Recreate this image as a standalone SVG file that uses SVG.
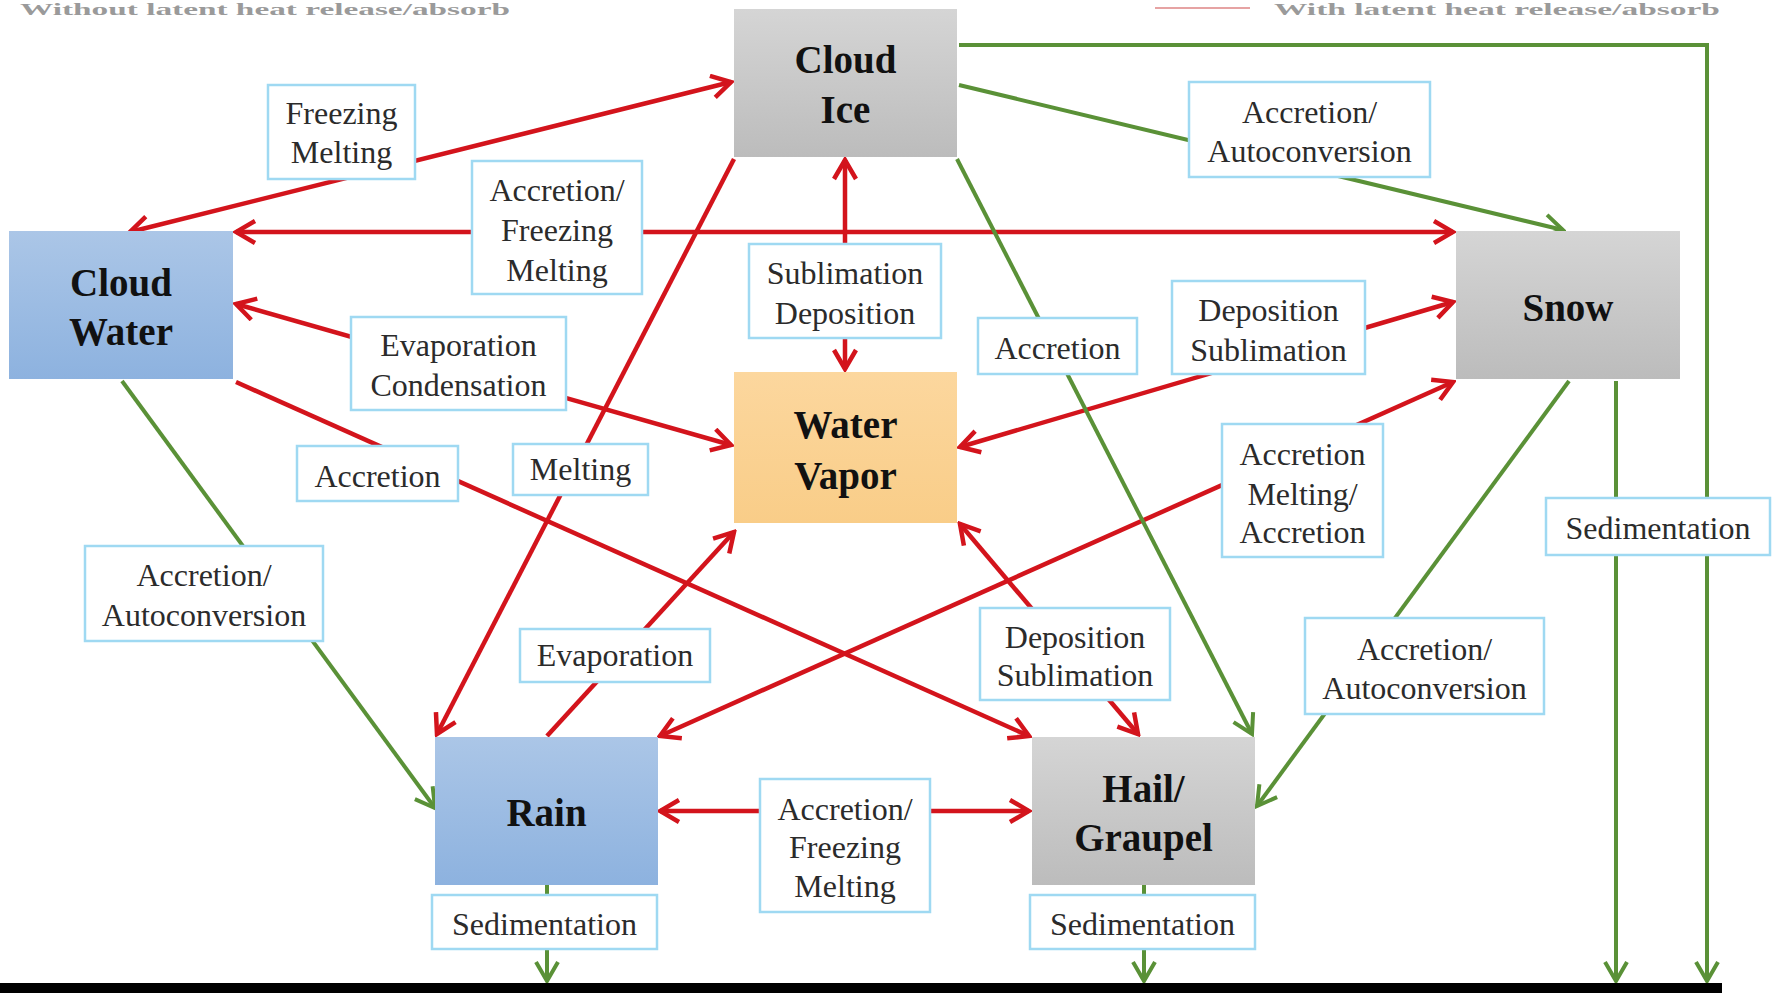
<svg xmlns="http://www.w3.org/2000/svg" width="1776" height="993" viewBox="0 0 1776 993">
<defs>
<linearGradient id="gGray" x1="0" y1="0" x2="0" y2="1"><stop offset="0" stop-color="#d5d5d5"/><stop offset="1" stop-color="#bcbcbc"/></linearGradient>
<linearGradient id="gBlue" x1="0" y1="0" x2="0" y2="1"><stop offset="0" stop-color="#abc6e7"/><stop offset="1" stop-color="#8db2df"/></linearGradient>
<linearGradient id="gOrange" x1="0" y1="0" x2="0" y2="1"><stop offset="0" stop-color="#fcd79e"/><stop offset="1" stop-color="#f9cd88"/></linearGradient>
<marker id="aR" viewBox="0 0 26 26" refX="23" refY="13" markerWidth="26" markerHeight="26" markerUnits="userSpaceOnUse" orient="auto-start-reverse"><path d="M4,2 L23,13 L4,24" fill="none" stroke="#d3141c" stroke-width="4.5"/></marker>
<marker id="aG" viewBox="0 0 26 26" refX="23" refY="13" markerWidth="26" markerHeight="26" markerUnits="userSpaceOnUse" orient="auto-start-reverse"><path d="M4,2 L23,13 L4,24" fill="none" stroke="#5a9137" stroke-width="4"/></marker>
<style>
.r{stroke:#d3141c;stroke-width:4.5;fill:none}
.g{stroke:#5a9137;stroke-width:4;fill:none}
.lb{fill:#ffffff;stroke:#9fd9f2;stroke-width:2.5}
.lt{font-family:'Liberation Serif','Times New Roman',serif;font-size:32px;fill:#2b2b2b;text-anchor:middle}
.nt{font-family:'Liberation Serif','Times New Roman',serif;font-size:39px;font-weight:bold;fill:#111111;text-anchor:middle}
.leg{font-family:'Liberation Serif','Times New Roman',serif;font-size:17px;font-weight:bold;fill:#9a9a9a}
</style>
</defs>
<rect width="1776" height="993" fill="#ffffff"/>
<g id="legend">
<text class="leg" x="20" y="15" textLength="490" lengthAdjust="spacingAndGlyphs">Without latent heat release/absorb</text>
<line x1="1155" y1="8" x2="1250" y2="8" stroke="#e6a3a3" stroke-width="2"/>
<text class="leg" x="1274" y="15" textLength="446" lengthAdjust="spacingAndGlyphs">With latent heat release/absorb</text>
</g>
<g id="connectors">
<line class="r" x1="130" y1="232" x2="731" y2="82" marker-start="url(#aR)" marker-end="url(#aR)"/>
<line class="r" x1="236" y1="232" x2="1453" y2="232" marker-start="url(#aR)" marker-end="url(#aR)"/>
<line class="r" x1="845" y1="160" x2="845" y2="369" marker-start="url(#aR)" marker-end="url(#aR)"/>
<line class="r" x1="236" y1="304" x2="731" y2="445" marker-start="url(#aR)" marker-end="url(#aR)"/>
<line class="r" x1="236" y1="382" x2="1029" y2="736" marker-end="url(#aR)"/>
<line class="r" x1="734" y1="159" x2="437" y2="734" marker-end="url(#aR)"/>
<line class="r" x1="547" y1="736" x2="734" y2="532" marker-end="url(#aR)"/>
<line class="r" x1="660" y1="736" x2="1453" y2="382" marker-start="url(#aR)" marker-end="url(#aR)"/>
<line class="r" x1="1453" y1="302" x2="960" y2="447" marker-start="url(#aR)" marker-end="url(#aR)"/>
<line class="r" x1="960" y1="524" x2="1138" y2="734" marker-start="url(#aR)" marker-end="url(#aR)"/>
<line class="r" x1="660" y1="811" x2="1029" y2="811" marker-start="url(#aR)" marker-end="url(#aR)"/>
<line class="g" x1="959" y1="85" x2="1563" y2="230" marker-end="url(#aG)"/>
<polyline class="g" points="959,45 1707,45 1707,981" marker-end="url(#aG)"/>
<line class="g" x1="1616" y1="381" x2="1616" y2="981" marker-end="url(#aG)"/>
<line class="g" x1="957" y1="159" x2="1252" y2="734" marker-end="url(#aG)"/>
<line class="g" x1="1569" y1="381" x2="1257" y2="806" marker-end="url(#aG)"/>
<line class="g" x1="122" y1="381" x2="435" y2="808" marker-end="url(#aG)"/>
<line class="g" x1="547" y1="885" x2="547" y2="981" marker-end="url(#aG)"/>
<line class="g" x1="1144" y1="885" x2="1144" y2="981" marker-end="url(#aG)"/>
</g>
<g id="labels">
<g id="lbl-freezing-melting"><rect class="lb" x="268" y="85" width="147" height="94"/><text class="lt" x="341.5" y="124">Freezing</text><text class="lt" x="341.5" y="163">Melting</text></g>
<g id="lbl-acc-freez-melt-top"><rect class="lb" x="472" y="161" width="170" height="133"/><text class="lt" x="557" y="201">Accretion/</text><text class="lt" x="557" y="241">Freezing</text><text class="lt" x="557" y="281">Melting</text></g>
<g id="lbl-subl-depo"><rect class="lb" x="749" y="244" width="192" height="94"/><text class="lt" x="845" y="284">Sublimation</text><text class="lt" x="845" y="324">Deposition</text></g>
<g id="lbl-evap-cond"><rect class="lb" x="351" y="317" width="215" height="93"/><text class="lt" x="458.5" y="356">Evaporation</text><text class="lt" x="458.5" y="396">Condensation</text></g>
<g id="lbl-accretion-left"><rect class="lb" x="297" y="446" width="161" height="55"/><text class="lt" x="377.5" y="487">Accretion</text></g>
<g id="lbl-melting"><rect class="lb" x="513" y="444" width="135" height="51"/><text class="lt" x="580.5" y="480">Melting</text></g>
<g id="lbl-acc-auto-left"><rect class="lb" x="85" y="546" width="238" height="95"/><text class="lt" x="204" y="586">Accretion/</text><text class="lt" x="204" y="626">Autoconversion</text></g>
<g id="lbl-evaporation"><rect class="lb" x="520" y="629" width="190" height="53"/><text class="lt" x="615" y="666">Evaporation</text></g>
<g id="lbl-acc-auto-top"><rect class="lb" x="1189" y="82" width="241" height="95"/><text class="lt" x="1309.5" y="123">Accretion/</text><text class="lt" x="1309.5" y="162">Autoconversion</text></g>
<g id="lbl-accretion-mid"><rect class="lb" x="978" y="318" width="159" height="56"/><text class="lt" x="1057.5" y="359">Accretion</text></g>
<g id="lbl-depo-subl-upper"><rect class="lb" x="1172" y="281" width="193" height="93"/><text class="lt" x="1268.5" y="321">Deposition</text><text class="lt" x="1268.5" y="361">Sublimation</text></g>
<g id="lbl-acc-melt-acc"><rect class="lb" x="1222" y="424" width="161" height="133"/><text class="lt" x="1302.5" y="465">Accretion</text><text class="lt" x="1302.5" y="505">Melting/</text><text class="lt" x="1302.5" y="543">Accretion</text></g>
<g id="lbl-sed-right"><rect class="lb" x="1546" y="498" width="224" height="57"/><text class="lt" x="1658" y="539">Sedimentation</text></g>
<g id="lbl-depo-subl-lower"><rect class="lb" x="980" y="608" width="190" height="92"/><text class="lt" x="1075" y="648">Deposition</text><text class="lt" x="1075" y="686">Sublimation</text></g>
<g id="lbl-acc-auto-right"><rect class="lb" x="1305" y="618" width="239" height="96"/><text class="lt" x="1424.5" y="660">Accretion/</text><text class="lt" x="1424.5" y="699">Autoconversion</text></g>
<g id="lbl-acc-freez-melt-bottom"><rect class="lb" x="760" y="779" width="170" height="133"/><text class="lt" x="845" y="820">Accretion/</text><text class="lt" x="845" y="858">Freezing</text><text class="lt" x="845" y="897">Melting</text></g>
<g id="lbl-sed-rain"><rect class="lb" x="432" y="895" width="225" height="54"/><text class="lt" x="544.5" y="935">Sedimentation</text></g>
<g id="lbl-sed-hail"><rect class="lb" x="1030" y="895" width="225" height="54"/><text class="lt" x="1142.5" y="935">Sedimentation</text></g>
</g>
<g id="node-cloud-ice"><rect x="734" y="9" width="223" height="148" fill="url(#gGray)"/><text class="nt" x="845.5" y="73">Cloud</text><text class="nt" x="845.5" y="123">Ice</text></g>
<g id="node-cloud-water"><rect x="9" y="231" width="224" height="148" fill="url(#gBlue)"/><text class="nt" x="121" y="296">Cloud</text><text class="nt" x="121" y="345">Water</text></g>
<g id="node-snow"><rect x="1456" y="231" width="224" height="148" fill="url(#gGray)"/><text class="nt" x="1568" y="321">Snow</text></g>
<g id="node-water-vapor"><rect x="734" y="372" width="223" height="151" fill="url(#gOrange)"/><text class="nt" x="845.5" y="438">Water</text><text class="nt" x="845.5" y="489">Vapor</text></g>
<g id="node-rain"><rect x="435" y="737" width="223" height="148" fill="url(#gBlue)"/><text class="nt" x="546.5" y="826">Rain</text></g>
<g id="node-hail"><rect x="1032" y="737" width="223" height="148" fill="url(#gGray)"/><text class="nt" x="1143.5" y="802">Hail/</text><text class="nt" x="1143.5" y="851">Graupel</text></g>
<rect id="ground" x="0" y="983" width="1722" height="10" fill="#000000"/>
</svg>
